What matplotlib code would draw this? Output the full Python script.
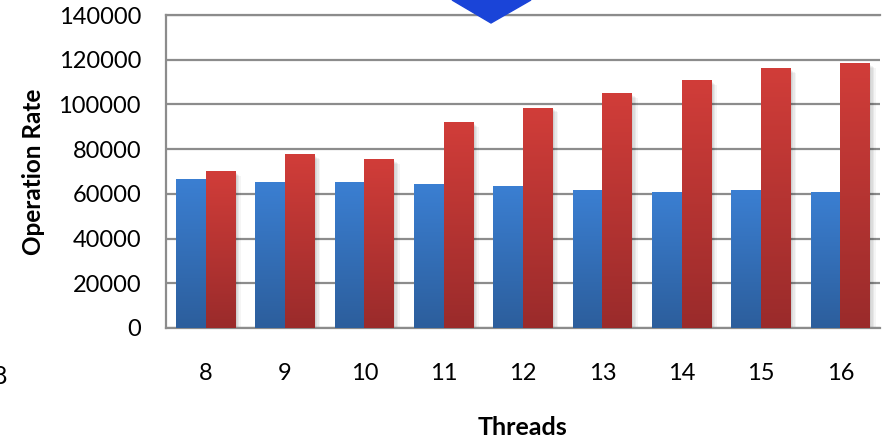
import matplotlib.pyplot as plt
import numpy as np
from matplotlib.colors import LinearSegmentedColormap
from matplotlib.patches import Polygon, Rectangle

plt.rcParams['font.family'] = ['Lato', 'DejaVu Sans']

# Data
threads = ['8', '9', '10', '11', '12', '13', '14', '15', '16']
blue_rate = [66200, 65300, 65000, 64400, 63500, 61300, 60400, 61400, 60400]
red_rate = [70000, 77400, 75200, 91700, 98400, 104700, 110500, 115900, 118100]
yticks = [0, 20000, 40000, 60000, 80000, 100000, 120000, 140000]

W, H = 884, 437
fig = plt.figure(figsize=(W / 100, H / 100), dpi=100)
ax = fig.add_axes([166 / W, (H - 328) / H, (880 - 166) / W, (328 - 15) / H])

blue_cmap = LinearSegmentedColormap.from_list('b', ['#2c5e9c', '#3b7fd2'])
red_cmap = LinearSegmentedColormap.from_list('r', ['#9a2b2b', '#d13d39'])
grad = np.linspace(0, 1, 256).reshape(-1, 1)

bw = 0.372
x = np.arange(len(threads))


def gradient_bar(x0, val, cmap):
    # soft drop shadow to the right / below
    for k, a in enumerate([0.05, 0.05, 0.05, 0.04]):
        dx = 0.012 * (k + 1)
        dy = 500 * (k + 1)
        ax.add_patch(Rectangle((x0 + dx * 0.5, -dy), bw + dx, val,
                               color='black', alpha=a, lw=0, zorder=2))
    ax.imshow(grad, extent=[x0, x0 + bw, 0, val], origin='lower',
              aspect='auto', cmap=cmap, zorder=3, interpolation='bicubic')


for i in range(len(threads)):
    gradient_bar(x[i] - bw, blue_rate[i], blue_cmap)
    gradient_bar(x[i], red_rate[i], red_cmap)

ax.set_xlim(-0.5, len(threads) - 0.5)
ax.set_ylim(0, 140000)
ax.set_yticks(yticks)
ax.set_xticks(x)
ax.set_xticklabels(threads)
ax.yaxis.grid(True, color='#8c8c8c', lw=1.6, zorder=1)
ax.set_axisbelow(True)
ax.tick_params(length=0, labelsize=17, colors='black')
ax.tick_params(axis='x', pad=25)
ax.tick_params(axis='y', pad=18)

for s in ['top', 'right']:
    ax.spines[s].set_visible(False)
for s in ['left', 'bottom']:
    ax.spines[s].set_color('#8c8c8c')
    ax.spines[s].set_linewidth(1.6)
ax.axhline(140000, color='#8c8c8c', lw=1.6, clip_on=False, zorder=1)

ax.set_ylabel('Operation Rate', fontsize=17.5, fontweight='bold', labelpad=10)
ax.set_xlabel('Threads', fontsize=18, fontweight='bold', labelpad=23)

# marker arrow at the top edge and clipped label at the left edge
fig.patches.append(Polygon([[452 / W, 1.0], [531 / W, 1.0], [491 / W, (H - 23) / H]],
                           closed=True, transform=fig.transFigure,
                           color='#1a44d8', zorder=5))
fig.text(-7 / W, (H - 376) / H, '8', fontsize=18, va='center', ha='left')

fig.savefig('out.png', dpi=100)
